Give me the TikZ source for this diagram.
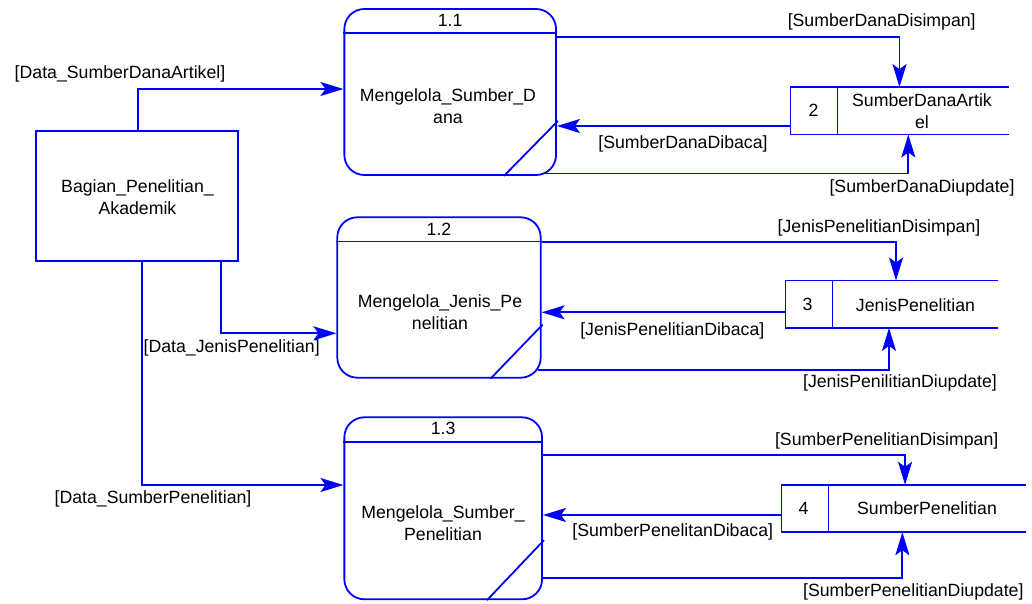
\documentclass[tikz,border=0pt]{standalone}
\usepackage{fontspec}
\setmainfont{Liberation Sans}
\usetikzlibrary{arrows.meta}

\begin{document}
\begin{tikzpicture}[x=1pt, y=-1pt,
  every node/.style={font=\fontsize{17.7}{22}\selectfont, text=black},
  lines/.style={draw=blue, line width=1.8pt},
  process/.style={lines, rectangle, rounded corners=20pt, inner sep=0pt},
  entity/.style={lines, rectangle, inner sep=0pt},
  storebox/.style={rectangle, inner sep=0pt, minimum height=47pt},
  flow/.style={lines, line join=miter, -{Stealth[length=23pt, width=14pt, inset=5pt]}},
  txt/.style={align=center, inner sep=0pt}
]
\useasboundingbox (0,0) rectangle (1032,604);

% external entity
\node[entity, minimum width=202.6pt, minimum height=129.7pt] (E) at (137,195.85) {};
\node[txt] (Etxt) at (137.5,197) {Bagian\_Penelitian\_\\Akademik};

% processes
\node[process, minimum width=211.7pt, minimum height=166pt] (P1) at (450.2,92) {};
\node[process, minimum width=203.4pt, minimum height=160.4pt] (P2) at (439,297.5) {};
\node[process, minimum width=197.7pt, minimum height=182pt] (P3) at (443.2,508.3) {};

% header bars and corner marks
\draw[lines] ([yshift=-25pt]P1.north west) -- ([yshift=-25pt]P1.north east);
\draw[lines] ([yshift=-25pt]P2.north west) -- ([yshift=-25pt]P2.north east);
\draw[lines] ([yshift=-25.5pt]P3.north west) -- ([yshift=-25.5pt]P3.north east);
\draw[lines] ([xshift=-53pt]P1.south east) -- ([xshift=1pt,yshift=55pt]P1.south east);
\draw[lines] ([xshift=-51pt]P2.south east) -- ([xshift=1pt,yshift=54pt]P2.south east);
\draw[lines] ([xshift=-56pt]P3.south east) -- ([xshift=1pt,yshift=60pt]P3.south east);

\node[txt] (P1id) at ([yshift=-12.5pt]P1.north) {1.1};
\node[txt] (P2id) at ([yshift=-12.5pt]P2.north) {1.2};
\node[txt] (P3id) at ([yshift=-12.5pt]P3.north) {1.3};
\node[txt] (P1txt) at (448,106) {Mengelola\_Sumber\_D\\ana};
\node[txt] (P2txt) at (440,312) {Mengelola\_Jenis\_Pe\\nelitian};
\node[txt] (P3txt) at (443,523) {Mengelola\_Sumber\_\\Penelitian};

% data stores (open on the right)
\node[storebox, minimum width=217.6pt] (S2) at (899.5,110.8) {};
\node[storebox, minimum width=211.6pt] (S3) at (891.5,304.2) {};
\node[storebox, minimum width=244.3pt] (S4) at (903.85,508.5) {};
\foreach \s in {S2,S3,S4}{
  \draw[lines, line join=miter] (\s.north east) -- (\s.north west) -- (\s.south west) -- (\s.south east);
  \draw[lines] ([xshift=47pt]\s.north west) -- ([xshift=47pt]\s.south west);
}
\node[txt] (S2id) at ([xshift=23pt]S2.west) {2};
\node[txt] (S3id) at ([xshift=22pt]S3.west) {3};
\node[txt] (S4id) at ([xshift=22pt]S4.west) {4};
\node[txt] (S2txt) at (922,111) {SumberDanaArtik\\el};
\node[txt] (S3txt) at (915.5,305) {JenisPenelitian};
\node[txt] (S4txt) at (927,508.5) {SumberPenelitian};

% flows from the entity
\draw[flow] ([xshift=0.7pt]E.north) |- ([yshift=3pt]P1.west);
\draw[flow] ([xshift=-18.3pt]E.south east) |- ([yshift=-35.8pt]P2.west);
\draw[flow] ([xshift=4.7pt]E.south) |- ([yshift=23.3pt]P3.west);
\node (L1) at (120,74) {[Data\_SumberDanaArtikel]};
\node (L2) at (231.7,347.7) {[Data\_JenisPenelitian]};
\node (L3) at (153,499.3) {[Data\_SumberPenelitian]};

% flows between process 1.1 and store 2
\draw[flow] ([yshift=55.3pt]P1.east) -| (S2.north);
\draw[flow] ([yshift=-15.2pt]S2.west) -- ([yshift=-34pt]P1.east);
\draw[flow] ([xshift=-16pt,yshift=2.3pt]P1.south east) -| ([xshift=8.8pt]S2.south);
\node (L4) at (881.7,21.7) {[SumberDanaDisimpan]};
\node (L5) at (683,144) {[SumberDanaDibaca]};
\node (L6) at (922,187.7) {[SumberDanaDiupdate]};

% flows between process 1.2 and store 3
\draw[flow] ([yshift=55.2pt]P2.east) -| ([xshift=4.5pt]S3.north);
\draw[flow] ([yshift=-8.1pt]S3.west) -- ([yshift=-14.8pt]P2.east);
\draw[flow] ([xshift=-3.4pt,yshift=8.7pt]P2.south east) -| ([xshift=-2.5pt]S3.south);
\node (L7) at (879,228.3) {[JenisPenelitianDisimpan]};
\node (L8) at (672.3,330.7) {[JenisPenelitianDibaca]};
\node (L9) at (900,382.7) {[JenisPenilitianDiupdate]};

% flows between process 1.3 and store 4
\draw[flow] ([yshift=53.3pt]P3.east) -| ([xshift=1.2pt]S4.north);
\draw[flow] ([yshift=-6.5pt]S4.west) -- ([yshift=-6.7pt]P3.east);
\draw[flow] ([yshift=22.6pt]P3.south east) -| ([xshift=-1.5pt]S4.south);
\node (L10) at (886.7,440.7) {[SumberPenelitianDisimpan]};
\node (L11) at (672.7,532.3) {[SumberPenelitanDibaca]};
\node (L12) at (913.3,591.7) {[SumberPenelitianDiupdate]};
\end{tikzpicture}
\end{document}
